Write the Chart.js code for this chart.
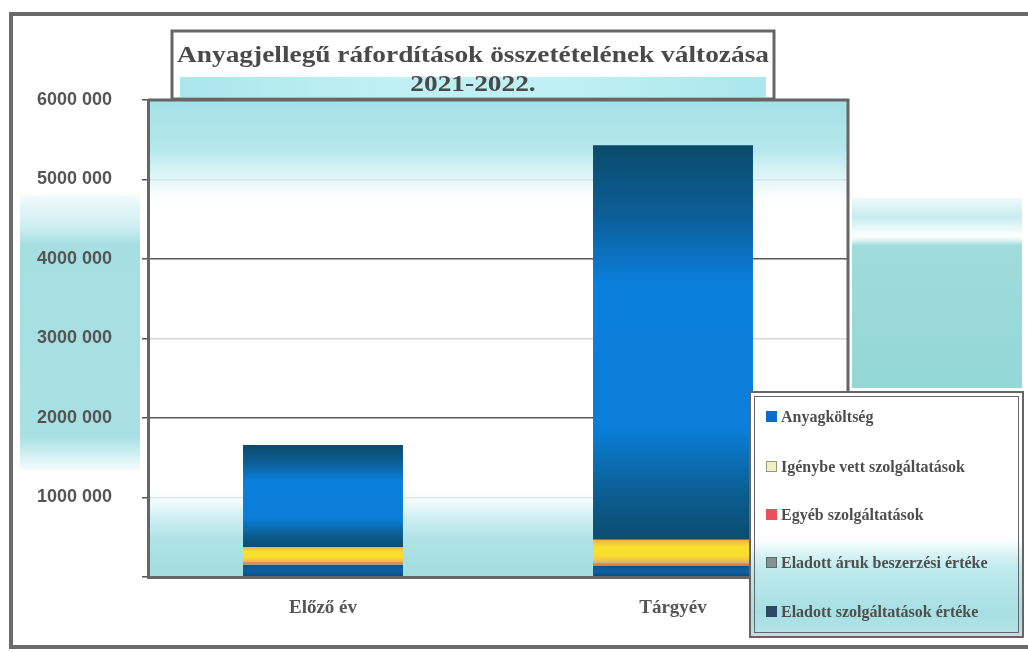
<!DOCTYPE html>
<html>
<head>
<meta charset="utf-8">
<script src="https://cdn.jsdelivr.net/npm/chart.js@4.4.1/dist/chart.umd.min.js"></script>
<style>
html,body{margin:0;padding:0;background:#fff;overflow:hidden;}
canvas{display:block;}
</style>
</head>
<body>
<canvas id="c" width="1028" height="652"></canvas>
<script>
// ---- data ----
const categories = ['Előző év', 'Tárgyév'];
const seriesNames = [
  'Eladott szolgáltatások értéke',
  'Eladott áruk beszerzési értéke',
  'Egyéb szolgáltatások',
  'Igénybe vett szolgáltatások',
  'Anyagköltség'
];
const eladottSzolgaltatasok = [150000, 140000];
const eladottAruk = [8000, 8000];
const egyebSzolgaltatasok = [30000, 30000];
const igenybeVett = [190000, 290000];
const anyagkoltseg = [1282000, 4962000];
const yTickValues = [0, 1000000, 2000000, 3000000, 4000000, 5000000, 6000000];
const yTickLabels = ['', '1000 000', '2000 000', '3000 000', '4000 000', '5000 000', '6000 000'];
const titleLines = ['Anyagjellegű ráfordítások összetételének változása', '2021-2022.'];

// ---- styles ----
const seriesValues = [eladottSzolgaltatasok, eladottAruk, egyebSzolgaltatasok, igenybeVett, anyagkoltseg];
const legendColors = ['#2c4a66', '#7f9393', '#e8505a', '#f3efc4', '#0a6ec8'];
const gradStops = [
  [[0, '#0c5590'], [0.5, '#0d60a2'], [1, '#0a4a7a']],
  [[0, '#8a9c9c'], [1, '#7f9393']],
  [[0, '#e9944e'], [1, '#e07a44']],
  [[0, '#eab24a'], [0.3, '#f9e02e'], [0.7, '#f8dd2c'], [1, '#edb050']],
  [[0, '#0b4a6a'], [0.18, '#0b5f98'], [0.35, '#0a7fdc'], [0.72, '#0a7ed8'], [0.88, '#0b5e92'], [1, '#0a4d70']]
];
const GREY = '#555555';

function barFill(context) {
  const chart = context.chart;
  const ys = chart.scales && chart.scales.y;
  const di = context.datasetIndex, i = context.dataIndex;
  if (!ys || !chart.chartArea || i === undefined) return legendColors[di];
  let start = 0;
  for (let k = 0; k < di; k++) start += seriesValues[k][i];
  const end = start + seriesValues[di][i];
  const y0 = ys.getPixelForValue(end), y1 = ys.getPixelForValue(start);
  if (!isFinite(y0) || !isFinite(y1) || y1 - y0 < 0.5) return legendColors[di];
  const g = chart.ctx.createLinearGradient(0, y0, 0, y1);
  gradStops[di].forEach(([o, c]) => g.addColorStop(o, c));
  return g;
}

const gridColorFor = {0: 'rgba(0,0,0,0)', 1000000: 'rgba(90,90,90,0.12)', 2000000: '#5a5a5a',
  3000000: 'rgba(90,90,90,0.25)', 4000000: '#5a5a5a', 5000000: 'rgba(90,90,90,0.12)', 6000000: '#666'};

function vGrad(ctx, y0, y1, stops) {
  const g = ctx.createLinearGradient(0, y0, 0, y1);
  stops.forEach(([o, c]) => g.addColorStop(o, c));
  return g;
}

const decor = {
  id: 'decor',
  beforeDraw(chart) {
    const ctx = chart.ctx;
    const a = chart.chartArea;
    ctx.save();
    ctx.fillStyle = '#ffffff';
    ctx.fillRect(0, 0, chart.width, chart.height);
    // outside cyan blocks (scan background)
    ctx.fillStyle = vGrad(ctx, 195, 470, [[0, 'rgba(170,226,230,0.15)'], [0.12, 'rgba(168,226,230,0.6)'], [0.18, '#a6dfe2'], [0.88, '#a8e0e3'], [1, 'rgba(170,228,232,0.1)']]);
    ctx.fillRect(20, 195, 120, 275);
    ctx.fillStyle = vGrad(ctx, 198, 388, [[0, 'rgba(170,228,232,0.2)'], [0.1, 'rgba(160,224,228,0.6)'], [0.2, 'rgba(255,255,255,0.6)'], [0.25, '#9fdcdc'], [1, '#93d7d6']]);
    ctx.fillRect(852, 198, 170, 190);
    // plot area bands
    ctx.fillStyle = vGrad(ctx, a.top, a.top + 110, [[0, '#a4e1e6'], [0.45, '#b4e8ec'], [0.7, 'rgba(200,238,241,0.6)'], [1, 'rgba(255,255,255,0)']]);
    ctx.fillRect(a.left, a.top, a.right - a.left, 110);
    ctx.fillStyle = vGrad(ctx, a.bottom - 95, a.bottom, [[0, 'rgba(255,255,255,0)'], [0.35, 'rgba(190,234,238,0.7)'], [0.6, '#aee3e6'], [1, '#a2dde0']]);
    ctx.fillRect(a.left, a.bottom - 95, a.right - a.left, 95);
    ctx.restore();
  },
  afterDraw(chart) {
    const ctx = chart.ctx;
    const a = chart.chartArea;
    ctx.save();
    // plot border top & right
    ctx.strokeStyle = '#666';
    ctx.lineWidth = 3;
    ctx.beginPath();
    ctx.moveTo(a.left, a.top);
    ctx.lineTo(a.right, a.top);
    ctx.lineTo(a.right, 392);
    ctx.stroke();
    // outer frame
    ctx.lineWidth = 4;
    ctx.strokeStyle = '#6a6a6a';
    ctx.beginPath();
    ctx.moveTo(1030, 14);
    ctx.lineTo(11, 14);
    ctx.lineTo(11, 647);
    ctx.lineTo(1030, 647);
    ctx.stroke();

    // title box
    const tx = 172, ty = 31, tw = 602, th = 68;
    ctx.fillStyle = '#ffffff';
    ctx.fillRect(tx, ty, tw, th);
    const hb = ctx.createLinearGradient(tx, 0, tx + tw, 0);
    hb.addColorStop(0, '#a9e6ec'); hb.addColorStop(0.35, '#bff0f3'); hb.addColorStop(0.65, '#bff0f3'); hb.addColorStop(1, '#a9e6ec');
    ctx.fillStyle = hb;
    ctx.fillRect(tx + 8, 77, tw - 16, 20);
    ctx.strokeStyle = '#666';
    ctx.lineWidth = 3;
    ctx.strokeRect(tx, ty, tw, th);
    ctx.fillStyle = '#4a4a4a';
    ctx.textAlign = 'center';
    ctx.textBaseline = 'middle';
    ctx.font = 'bold 23px "Liberation Serif"';
    const w1 = ctx.measureText(titleLines[0]).width;
    const sx = 592 / w1;
    const cx = tx + tw / 2;
    [[titleLines[0], 56], [titleLines[1], 85]].forEach(([t, y]) => {
      ctx.save();
      ctx.translate(cx, y);
      ctx.scale(sx, 1);
      ctx.fillText(t, 0, 0);
      ctx.restore();
    });

    // legend box
    const lx = 750, ly = 392, lw = 273, lh = 245;
    ctx.fillStyle = '#ffffff';
    ctx.fillRect(lx, ly, lw, lh);
    ctx.fillStyle = vGrad(ctx, ly, ly + lh, [[0, '#ffffff'], [0.6, '#ffffff'], [0.72, 'rgba(175,230,234,0.8)'], [0.9, '#a6dfe2'], [1, '#b4e6e8']]);
    ctx.fillRect(lx, ly, lw, lh);
    ctx.strokeStyle = '#666';
    ctx.lineWidth = 2;
    ctx.strokeRect(lx, ly, lw, lh);
    ctx.lineWidth = 1;
    ctx.strokeRect(lx + 4.5, ly + 4.5, lw - 9, lh - 9);
    ctx.textAlign = 'left';
    ctx.textBaseline = 'middle';
    ctx.font = 'bold 16px "Liberation Serif"';
    const items = chart.data.datasets.map((d, i) => ({label: d.label, color: legendColors[i]})).reverse();
    const ys = [417, 467, 515, 563, 612];
    items.forEach((it, k) => {
      const y = ys[k];
      ctx.fillStyle = it.color;
      ctx.fillRect(766, y - 6, 11, 11);
      ctx.strokeStyle = 'rgba(60,60,60,0.5)';
      ctx.lineWidth = 1;
      if (k === 1 || k === 3) ctx.strokeRect(766.5, y - 5.5, 10, 10);
      ctx.fillStyle = '#4e4e4e';
      ctx.fillText(it.label, 781, y + 1);
    });
    ctx.restore();
  }
};

const datasets = seriesNames.map((name, i) => ({
  label: name,
  data: seriesValues[i],
  backgroundColor: barFill,
  borderWidth: 0,
  barPercentage: 0.914,
  categoryPercentage: 0.5
}));

new Chart(document.getElementById('c'), {
  type: 'bar',
  data: { labels: categories, datasets },
  options: {
    responsive: false,
    devicePixelRatio: 1,
    animation: false,
    layout: { padding: { left: 0, right: 180, top: 100, bottom: 0 } },
    plugins: { legend: { display: false }, title: { display: false }, tooltip: { enabled: false } },
    scales: {
      x: {
        stacked: true,
        grid: { display: false },
        border: { display: true, color: '#666', width: 3, z: 1 },
        ticks: { color: GREY, font: { family: 'Liberation Serif', weight: 'bold', size: 19 }, padding: 12 },
        afterFit(s) { s.height = 75; }
      },
      y: {
        stacked: true,
        min: 0,
        max: 6000000,
        afterBuildTicks(s) { s.ticks = yTickValues.map(v => ({ value: v })); },
        grid: {
          color: c => gridColorFor[c.tick ? c.tick.value : 0] || 'rgba(0,0,0,0)',
          lineWidth: 1.5,
          tickLength: 6,
          tickColor: '#555'
        },
        border: { display: true, color: '#666', width: 3, z: 1 },
        ticks: {
          color: GREY,
          font: { family: 'Liberation Sans', weight: 'bold', size: 18 },
          padding: 30,
          callback: (v) => { const i = yTickValues.indexOf(v); return i >= 0 ? yTickLabels[i] : ''; }
        },
        afterFit(s) { s.width = 148; }
      }
    }
  },
  plugins: [decor]
});
</script>
</body>
</html>
